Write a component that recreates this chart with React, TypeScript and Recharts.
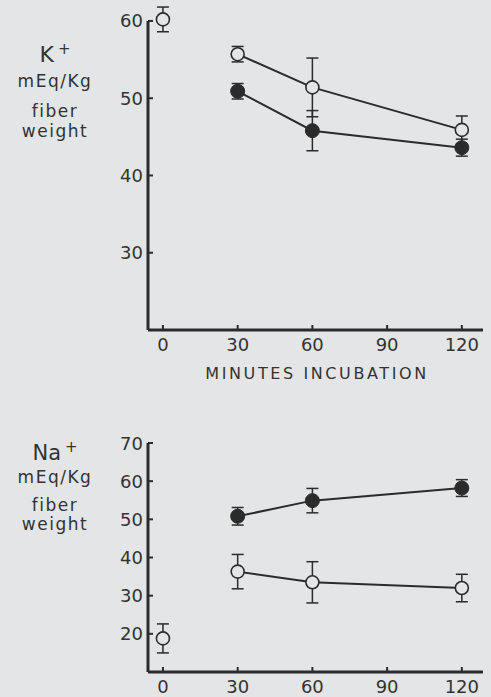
import React from 'react';
import { LineChart, Line, XAxis, YAxis, ErrorBar, ReferenceLine } from 'recharts';

const minutes = [0, 30, 60, 120];

// K+ (mEq/Kg fiber weight)
const kOpen = [60.2, 55.7, 51.4, 45.9];
const kOpenErr = [1.6, 1.0, 3.8, 1.8];
const kFilled = [null, 50.9, 45.8, 43.6];
const kFilledErr = [null, 1.0, 2.6, 1.1];

// Na+ (mEq/Kg fiber weight)
const naOpen = [18.8, 36.3, 33.5, 32.0];
const naOpenErr = [3.8, 4.5, 5.4, 3.6];
const naFilled = [null, 50.8, 54.9, 58.2];
const naFilledErr = [null, 2.3, 3.2, 2.2];

const xTicks = [0, 30, 60, 90, 120];
const kTicks = [30, 40, 50, 60];
const naTicks = [20, 30, 40, 50, 60, 70];

const BG = '#e4e5e6';
const INK = '#2b2b2b';
const FONT = '"DejaVu Sans", sans-serif';
const X_MIN = -6;

// baseline (0 min) point is not joined to the incubation points
const buildRows = (open: (number | null)[], openErr: (number | null)[], filled: (number | null)[], filledErr: (number | null)[]) =>
  minutes.map((m, i) => ({
    minutes: m,
    start: i === 0 ? open[i] : null,
    startErr: i === 0 ? openErr[i] : null,
    open: i === 0 ? null : open[i],
    openErr: i === 0 ? null : openErr[i],
    filled: filled[i],
    filledErr: filledErr[i],
  }));

const kData = buildRows(kOpen, kOpenErr, kFilled, kFilledErr);
const naData = buildRows(naOpen, naOpenErr, naFilled, naFilledErr);

const YTick = (props: any) => {
  const { x, y, payload } = props;
  return (
    <g>
      <line x1={x} x2={x + 5} y1={y} y2={y} stroke={INK} strokeWidth={2} />
      <text x={x - 5} y={y} textAnchor="end" dominantBaseline="central" fontSize={18} fill="#333" fontFamily={FONT}>
        {payload.value}
      </text>
    </g>
  );
};

const XTick = (props: any) => {
  const { x, y, payload } = props;
  return (
    <g>
      <line x1={x} x2={x} y1={y} y2={y - 5} stroke={INK} strokeWidth={2} />
      <text x={x} y={y + 14} textAnchor="middle" dominantBaseline="central" fontSize={18} fill="#333" fontFamily={FONT}>
        {payload.value}
      </text>
    </g>
  );
};

const openDot = { r: 6.5, fill: BG, stroke: INK, strokeWidth: 1.6 };
const filledDot = { r: 7, fill: INK, stroke: INK, strokeWidth: 1 };

type PanelProps = {
  data: any[];
  domain: [number, number];
  ticks: number[];
  height: number;
  top: number;
};

const Panel = ({ data, domain, ticks, height, top }: PanelProps) => (
  <LineChart width={491} height={height} data={data} margin={{ top, right: 8, bottom: 0, left: 108 }}>
    <XAxis
      dataKey="minutes"
      type="number"
      domain={[X_MIN, 128.5]}
      ticks={xTicks}
      height={28}
      tickSize={0}
      tickMargin={0}
      tick={<XTick />}
      axisLine={{ stroke: INK, strokeWidth: 3 }}
    />
    <YAxis
      type="number"
      domain={domain}
      ticks={ticks}
      width={40}
      tickSize={0}
      tickMargin={0}
      tick={<YTick />}
      axisLine={false}
    />
    {/* vertical axis only runs up to the top tick */}
    <ReferenceLine
      segment={[{ x: X_MIN, y: domain[0] }, { x: X_MIN, y: ticks[ticks.length - 1] }]}
      stroke={INK}
      strokeWidth={3}
      ifOverflow="visible"
    />
    <Line dataKey="open" stroke={INK} strokeWidth={2} dot={openDot} isAnimationActive={false}>
      <ErrorBar dataKey="openErr" direction="y" width={6} stroke={INK} strokeWidth={1.5} />
    </Line>
    <Line dataKey="filled" stroke={INK} strokeWidth={2} dot={filledDot} isAnimationActive={false}>
      <ErrorBar dataKey="filledErr" direction="y" width={6} stroke={INK} strokeWidth={1.5} />
    </Line>
    <Line dataKey="start" stroke="none" dot={openDot} isAnimationActive={false}>
      <ErrorBar dataKey="startErr" direction="y" width={6} stroke={INK} strokeWidth={1.5} />
    </Line>
  </LineChart>
);

const labelStyle: React.CSSProperties = {
  position: 'absolute',
  width: 110,
  textAlign: 'center',
  fontFamily: FONT,
  color: '#333',
  lineHeight: 1,
};

const App = () => (
  <div style={{ position: 'absolute', left: 0, top: 0, width: 491, height: 697, background: BG, overflow: 'hidden' }}>
    {/* 60 sits at y=21, 20 at y=330 -> 62 at about y=5.5 */}
    <div style={{ position: 'absolute', left: 0, top: 0 }}>
      <Panel data={kData} domain={[20, 62]} ticks={kTicks} height={358} top={5.5} />
    </div>
    <div style={{ ...labelStyle, left: 0, top: 42, fontSize: 22 }}>
      K<sup style={{ fontSize: 15, marginLeft: 4 }}>+</sup>
    </div>
    <div style={{ ...labelStyle, left: 0, top: 73, fontSize: 17, letterSpacing: 1.5 }}>mEq/Kg</div>
    <div style={{ ...labelStyle, left: 0, top: 103, fontSize: 17, letterSpacing: 1.5 }}>fiber</div>
    <div style={{ ...labelStyle, left: 0, top: 123, fontSize: 17, letterSpacing: 1.5 }}>weight</div>
    <div style={{ position: 'absolute', left: 150, width: 334, top: 364, textAlign: 'center', fontFamily: FONT, fontSize: 16, letterSpacing: 2.6, color: '#333' }}>
      MINUTES INCUBATION
    </div>

    <div style={{ position: 'absolute', left: 0, top: 400 }}>
      <Panel data={naData} domain={[10, 70]} ticks={naTicks} height={300} top={43} />
    </div>
    <div style={{ ...labelStyle, left: 0, top: 440, fontSize: 21 }}>
      Na<sup style={{ fontSize: 15, marginLeft: 4 }}>+</sup>
    </div>
    <div style={{ ...labelStyle, left: 0, top: 469, fontSize: 17, letterSpacing: 1.5 }}>mEq/Kg</div>
    <div style={{ ...labelStyle, left: 0, top: 497, fontSize: 17, letterSpacing: 1.5 }}>fiber</div>
    <div style={{ ...labelStyle, left: 0, top: 516, fontSize: 17, letterSpacing: 1.5 }}>weight</div>
  </div>
);

export default App;
